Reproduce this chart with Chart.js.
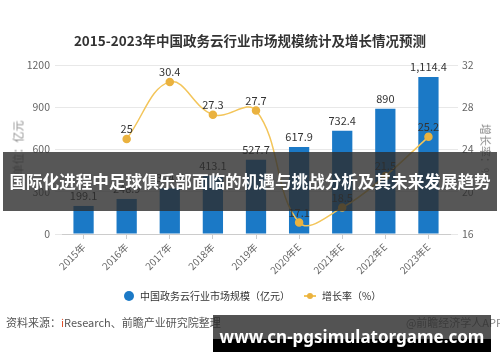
<!DOCTYPE html>
<html>
<head>
<meta charset="utf-8">
<script src="https://cdn.jsdelivr.net/npm/chart.js@4.4.1/dist/chart.umd.min.js"></script>
<style>
    body { margin: 0; background: #fff; }
    #wrap { position: relative; width: 500px; height: 362px; overflow: hidden; font-family: 'Noto Sans CJK SC', 'Noto Sans', sans-serif; }
    #chart { position: absolute; left: 0; top: 0; }
    .title { position: absolute; left: 0; width: 500px; top: 30px; text-align: center; font-size: 13.5px; font-weight: 700; color: #333; }
    .axis-title { position: absolute; font-size: 11px; color: #888; white-space: nowrap; }
    .legend { position: absolute; top: 288px; font-size: 10px; color: #333; white-space: nowrap; }
    .source { position: absolute; top: 314px; left: 6px; font-size: 11px; color: #555; white-space: nowrap; }
    .app { position: absolute; top: 314px; right: -3px; font-size: 11px; color: #888; white-space: nowrap; }
    .banner { position: absolute; left: 3px; top: 152px; width: 494px; height: 59px; background: rgba(45,45,45,0.8);
        color: #fff; font-size: 16.6px; font-weight: 700; text-align: center; line-height: 59px; white-space: nowrap; }
    .url { position: absolute; left: 213px; top: 315px; width: 278px; height: 37px;
        background: linear-gradient(to bottom, rgba(40,40,40,0.8) 0, rgba(40,40,40,0.8) 64%, #000 64%, #000 100%);
        color: #fff; font-family: 'Noto Sans', sans-serif; font-size: 17px; font-weight: 700; text-align: center; line-height: 44px; white-space: nowrap; }
</style>
</head>
<body>
<div id="wrap">
    <canvas id="chart" width="500" height="362"></canvas>
    <div class="title">2015-2023年中国政务云行业市场规模统计及增长情况预测</div>
    <div class="axis-title" style="left:-10px; top:140px; transform: rotate(-90deg);">单位：亿元</div>
    <div class="axis-title" style="left:459px; top:143px; transform: rotate(90deg);">增长率：%</div>
    <div class="legend" style="left:124px;">
        <span style="display:inline-block;width:10px;height:10px;border-radius:50%;background:#1b79c6;vertical-align:-1px;margin-right:6px;"></span>中国政务云行业市场规模（亿元）
    </div>
    <div class="legend" style="left:304px;">
        <span style="display:inline-block;position:relative;width:12px;height:10px;vertical-align:-1px;margin-right:6px;">
            <span style="position:absolute;left:0;top:4px;width:12px;height:2px;background:#f3c55a;"></span>
            <span style="position:absolute;left:3px;top:2px;width:6px;height:6px;border-radius:50%;background:#eab23f;"></span>
        </span>增长率（%）
    </div>
    <div class="source">资料来源：<span style="color:#e0502a;">i</span>Research、前瞻产业研究院整理</div>
    <div class="app">@前瞻经济学人APP</div>
    <div class="banner">国际化进程中足球俱乐部面临的机遇与挑战分析及其未来发展趋势</div>
    <div class="url">www.cn-pgsimulatorgame.com</div>
</div>
<script>
const years = ['2015年', '2016年', '2017年', '2018年', '2019年', '2020年E', '2021年E', '2022年E', '2023年E'];
const marketSize = [199.1, 248.9, 324.6, 413.1, 527.7, 617.9, 732.4, 890, 1114.4];
const growthRate = [null, 25, 30.4, 27.3, 27.7, 17.1, 18.5, 21.5, 25.2];

const FONT = "'Noto Sans CJK SC', 'Noto Sans', sans-serif";

// value labels above bars and points
const valueLabels = {
    id: 'valueLabels',
    afterDatasetsDraw(chart) {
        const ctx = chart.ctx;
        ctx.save();
        ctx.font = '11px ' + FONT;
        ctx.fillStyle = '#333';
        ctx.textAlign = 'center';
        ctx.textBaseline = 'middle';
        chart.data.datasets.forEach((ds, i) => {
            const meta = chart.getDatasetMeta(i);
            meta.data.forEach((el, j) => {
                const v = ds.data[j];
                if (v === null) return;
                ctx.fillText(v.toLocaleString('en-US'), el.x, el.y - 10);
            });
        });
        ctx.restore();
    }
};

new Chart(document.getElementById('chart').getContext('2d'), {
    data: {
        labels: years,
        datasets: [
            {
                type: 'line',
                label: '增长率（%）',
                data: growthRate,
                yAxisID: 'y1',
                borderColor: '#f3c55a',
                borderWidth: 1.5,
                pointBackgroundColor: '#eab23f',
                pointBorderColor: '#eab23f',
                pointRadius: 3.5,
                tension: 0.4,
                order: 1
            },
            {
                type: 'bar',
                label: '中国政务云行业市场规模（亿元）',
                data: marketSize,
                yAxisID: 'y',
                backgroundColor: '#1b79c6',
                barPercentage: 0.47,
                categoryPercentage: 1,
                order: 2
            }
        ]
    },
    options: {
        responsive: false,
        animation: false,
        devicePixelRatio: 1,
        layout: { padding: { top: 65, left: 0, right: 0, bottom: 0 } },
        plugins: { legend: { display: false }, tooltip: { enabled: false } },
        scales: {
            x: {
                afterFit: s => { s.height = 128; },
                grid: { display: true, drawOnChartArea: false, drawTicks: true, tickLength: 5, offset: false, color: '#ccc' },
                border: { display: true, color: '#ccc' },
                ticks: { maxRotation: 45, minRotation: 45, padding: 2, color: '#666', font: { size: 10, family: FONT } }
            },
            y: {
                position: 'left',
                min: 0,
                max: 1200,
                afterFit: s => { s.width = 62; },
                grid: { color: '#e8e8e8', tickLength: 7 },
                border: { display: false },
                ticks: { stepSize: 300, padding: 5, color: '#666', font: { size: 10.5, family: FONT }, callback: v => String(v) }
            },
            y1: {
                position: 'right',
                min: 16,
                max: 32,
                afterFit: s => { s.width = 50; },
                grid: { drawOnChartArea: false, color: '#e8e8e8', tickLength: 8 },
                border: { display: false },
                ticks: { stepSize: 4, padding: 4, color: '#666', font: { size: 10.5, family: FONT } }
            }
        }
    },
    plugins: [valueLabels]
});
</script>
</body>
</html>
